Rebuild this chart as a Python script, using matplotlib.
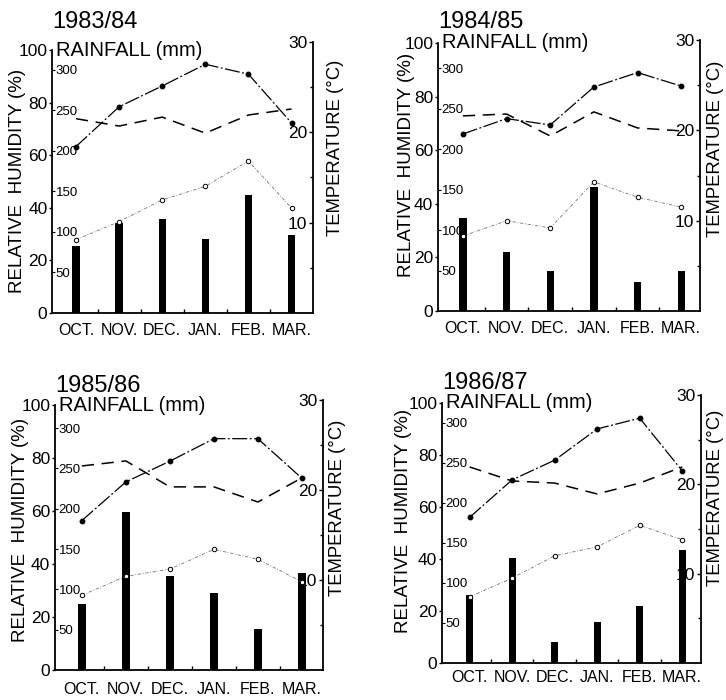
import matplotlib.pyplot as plt

plt.rcParams['font.family'] = ['Liberation Sans', 'DejaVu Sans']

months = ['OCT.', 'NOV.', 'DEC.', 'JAN.', 'FEB.', 'MAR.']
seasons = ['1983/84', '1984/85', '1985/86', '1986/87']

# rainfall (mm), bars
rain_8384 = [83, 111, 116, 91, 146, 96]
rain_8485 = [115, 73, 49, 153, 36, 49]
rain_8586 = [82, 196, 116, 95, 51, 120]
rain_8687 = [85, 131, 26, 51, 71, 141]

# relative humidity (%), dashed line
rh_8384 = [73.9, 71.1, 74.5, 68.4, 75.3, 77.6]
rh_8485 = [72.8, 73.5, 65.3, 74.3, 68.3, 67.2]
rh_8586 = [77.0, 78.9, 69.1, 69.1, 63.4, 72.5]
rh_8687 = [75.4, 70.0, 69.2, 65.0, 69.2, 75.4]

# max temperature (C), filled dots
tmax_8384 = [18.4, 22.8, 25.1, 27.5, 26.4, 21.0]
tmax_8485 = [19.6, 21.3, 20.6, 24.8, 26.4, 24.9]
tmax_8586 = [16.6, 20.9, 23.2, 25.7, 25.7, 21.3]
tmax_8687 = [16.3, 20.5, 22.7, 26.2, 27.4, 21.5]

# min temperature (C), open circles
tmin_8384 = [8.1, 10.1, 12.5, 14.0, 16.8, 11.6]
tmin_8485 = [8.3, 10.0, 9.2, 14.3, 12.6, 11.5]
tmin_8586 = [8.3, 10.4, 11.2, 13.4, 12.3, 9.8]
tmin_8687 = [7.4, 9.5, 12.0, 13.0, 15.4, 13.8]

rainfall = [rain_8384, rain_8485, rain_8586, rain_8687]
humidity = [rh_8384, rh_8485, rh_8586, rh_8687]
tmax = [tmax_8384, tmax_8485, tmax_8586, tmax_8687]
tmin = [tmin_8384, tmin_8485, tmin_8586, tmin_8687]

# layout of the four scanned panels
rects = [(0.0720, 0.5529, 0.3587, 0.3876),
         (0.6033, 0.5557, 0.3609, 0.3871),
         (0.0758, 0.0429, 0.3691, 0.3857),
         (0.6088, 0.0529, 0.3567, 0.3829)]
xlims = [(-0.55, 5.49), (-0.57, 5.43), (-0.61, 5.48), (-0.65, 5.44)]
hum_top = [103.2, 101.1, 101.9, 103.1]
title_pad = [10, 9, 6, 4]
hum_label_xy = [(-0.132, 0.487), (-0.12, 0.54), (-0.13, 0.52), (-0.148, 0.53)]
temp_label_xy = [(1.086, 0.61), (1.058, 0.60), (1.055, 0.60), (1.056, 0.615)]
month_pad = [7, 7, 9, 5]

fig = plt.figure(figsize=(7.26, 7.0), dpi=100)
x = list(range(len(months)))

for i in range(4):
    ax = fig.add_axes(rects[i])
    rain_ax = ax.twinx()
    temp_ax = ax.twinx()

    rain_ax.bar(x, rainfall[i], width=0.17, color='black')
    ax.plot(x, humidity[i], color='black', lw=1.1, ls=(0, (8, 5)))
    temp_ax.plot(x, tmax[i], color='black', lw=0.9, ls=(0, (12, 2, 1.5, 2)),
                 marker='o', ms=3.2)
    temp_ax.plot(x, tmin[i], color='0.45', lw=0.6, ls=(0, (4, 2, 1, 2)),
                 marker='o', ms=3.2, mfc='white', mec='black', mew=0.7)

    ax.set_xlim(*xlims[i])
    ax.set_ylim(0, hum_top[i])
    rain_ax.set_ylim(0, 335)
    temp_ax.set_ylim(0, 30)

    # humidity axis (left, outside)
    for s in ['top', 'right']:
        ax.spines[s].set_visible(False)
    ax.spines['left'].set_bounds(0, 100)
    ax.spines['left'].set_linewidth(1.3)
    ax.spines['bottom'].set_linewidth(1.3)
    ax.set_yticks([0, 20, 40, 60, 80, 100])
    ax.tick_params(axis='y', direction='out', length=2.5, width=1, labelsize=12.5, pad=1)
    ax.set_xticks(x)
    ax.set_xticklabels(months)
    ax.set_xticks([k + 0.5 for k in range(5)], minor=True)
    ax.tick_params(axis='x', which='major', length=0, labelsize=11.5, pad=month_pad[i])
    ax.tick_params(axis='x', which='minor', direction='in', length=3, width=1)
    ax.set_ylabel('RELATIVE  HUMIDITY (%)', fontsize=13.5, va='center', ha='center')
    ax.yaxis.set_label_coords(*hum_label_xy[i])
    ax.set_title(seasons[i], loc='left', fontsize=17, pad=title_pad[i])
    ax.text(0.015, 100, 'RAINFALL (mm)', transform=ax.get_yaxis_transform(),
            ha='left', va='center', fontsize=14.5)

    # rainfall axis drawn on the inside of the left spine
    for s in rain_ax.spines.values():
        s.set_visible(False)
    rain_ax.spines['right'].set_position(('axes', 0))
    rain_ax.set_yticks([50, 100, 150, 200, 250, 300])
    rain_ax.tick_params(axis='y', direction='out', length=2, width=0.8, labelsize=9.5, pad=0.5)

    # temperature axis (right, labels inside)
    for s in ['left', 'top', 'bottom']:
        temp_ax.spines[s].set_visible(False)
    temp_ax.spines['right'].set_bounds(0, 30)
    temp_ax.spines['right'].set_linewidth(1.3)
    temp_ax.set_yticks([10, 20, 30])
    temp_ax.set_yticks([5, 15, 25], minor=True)
    temp_ax.tick_params(axis='y', which='major', direction='in', length=3, width=1,
                        labelsize=12.5, pad=-4)
    temp_ax.tick_params(axis='y', which='minor', direction='in', length=2.5, width=1)
    for lab in temp_ax.get_yticklabels():
        lab.set_horizontalalignment('right')
    temp_ax.set_ylabel('TEMPERATURE (°C)', fontsize=13.3, rotation=90, va='center', ha='center')
    temp_ax.yaxis.set_label_coords(*temp_label_xy[i])

fig.savefig('out.png', dpi=100)
